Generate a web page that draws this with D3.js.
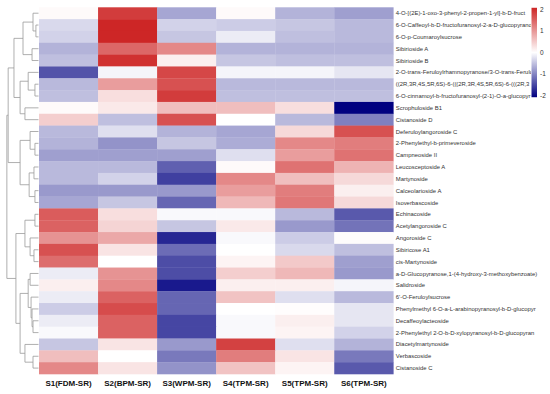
<html>
<head>
<script src="https://d3js.org/d3.v7.min.js"></script>
<style>
    body { margin: 0; background-color: #FFFFFF; font-family: "Liberation Sans", Arial, sans-serif; }
    svg { display: block; }
    .rowlab { font-size: 5.9px; fill: #333333; }
    .collab { font-size: 8px; font-weight: bold; fill: #111111; }
    .tick text { font-size: 6.5px; fill: #333333; }
    .dendro { fill: none; stroke: #9a9a9a; stroke-width: 0.8; }
</style>
</head>
<body>
<div id="chart"></div>
<script type="text/javascript">
    var samples = ["S1(FDM-SR)", "S2(BPM-SR)", "S3(WPM-SR)", "S4(TPM-SR)", "S5(TPM-SR)", "S6(TPM-SR)"];

    var compounds = [
        "4-O-[(2E)-1-oxo-3-phenyl-2-propen-1-yl]-b-D-fruct",
        "6-O-Caffeoyl-b-D-fructofuranosyl-2-a-D-glucopyrano",
        "6-O-p-Coumaroylsucrose",
        "Sibirioside A",
        "Sibirioside B",
        "2-O-trans-Feruloylrhamnopyranose/3-O-trans-Ferulo",
        "((2R,3R,4S,5R,6S)-6-(((2R,3R,4S,5R,6S)-6-(((2R,3",
        "6-O-cinnamoyl-b-fructofuranosyl-(2-1)-O-a-glucopyr",
        "Scrophuloside B1",
        "Cistanoside D",
        "Deferuloylangoroside C",
        "2-Phenylethyl-b-primeveroside",
        "Campneoside II",
        "Leucosceptoside A",
        "Martynoside",
        "Calceolarioside A",
        "Isoverbascoside",
        "Echinacoside",
        "Acetylangoroside C",
        "Angoroside C",
        "Sibiricose A1",
        "cis-Martynoside",
        "a-D-Glucopyranose,1-(4-hydroxy-3-methoxybenzoate)",
        "Salidroside",
        "6'-O-Feruloylsucrose",
        "Phenylmethyl 6-O-a-L-arabinopyranosyl-b-D-glucopyr",
        "Decaffeoylacteoside",
        "2-Phenylethyl 2-O-b-D-xylopyranosyl-b-D-glucopyran",
        "Diacetylmartynoside",
        "Verbascoside",
        "Cistanoside C"
    ];

    // z-scores, one row per compound, columns S1..S6
    var values = [
        [ 0.05,  1.80, -0.70,  0.05, -0.60, -0.75],
        [-0.30,  2.00, -0.35, -0.40, -0.45, -0.55],
        [-0.35,  2.00, -0.45, -0.15, -0.50, -0.55],
        [-0.60,  1.40,  1.10, -0.60, -0.60, -0.60],
        [-0.50,  1.90,  0.15, -0.45, -0.50, -0.50],
        [-1.35, -0.08,  1.70, -0.08, -0.08, -0.20],
        [-0.55,  0.90,  1.60, -0.55, -0.55, -0.55],
        [-0.50,  0.30,  1.80, -0.50, -0.50, -0.50],
        [ 0.05,  0.20,  0.60,  0.60,  0.30, -2.00],
        [ 0.45, -0.50,  1.60,  0.00, -0.55, -1.00],
        [-0.55, -0.25, -0.60, -0.70,  0.35,  1.60],
        [-0.60, -0.85, -0.45, -0.65,  1.10,  1.20],
        [-0.75, -0.75, -0.75, -0.25,  0.90,  1.30],
        [-0.55, -0.55, -1.25,  0.05,  1.30,  0.70],
        [-0.55, -0.35, -1.50,  1.10,  0.60,  0.35],
        [-0.80, -0.80, -0.80,  0.90,  1.20,  0.15],
        [-0.70, -0.45, -1.20,  0.65,  1.25,  0.35],
        [ 1.50,  0.30, -0.05, -0.05, -0.55, -1.30],
        [ 1.45,  0.40, -0.45,  0.20, -0.80, -1.10],
        [ 1.00,  0.80, -1.70, -0.05, -0.40,  0.03],
        [ 1.60,  0.25, -1.15,  0.00, -0.30, -0.50],
        [ 1.35,  0.00, -1.40,  0.10,  0.50, -0.75],
        [-0.15,  1.00, -1.40,  0.45,  0.65, -0.80],
        [ 0.15,  1.10, -1.80,  0.15,  0.15, -0.08],
        [-0.15,  1.45, -1.20,  0.55, -0.25, -0.55],
        [-0.40,  1.65, -1.20,  0.00,  0.02, -0.20],
        [-0.15,  1.45, -1.45, -0.05,  0.15, -0.20],
        [-0.05,  1.45, -1.45, -0.05,  0.10, -0.35],
        [-0.45,  0.25, -0.80,  1.75, -0.25, -0.60],
        [ 0.60,  0.00, -1.05,  1.20,  0.25, -1.05],
        [ 1.10,  0.25, -0.85,  0.55,  0.10, -1.30]
    ];

    // row clustering, hclust style: negative = leaf (1-based), positive = earlier merge
    var mergeA = [-2, -1, -4, 2, -7, -6, -9, 6, 4, -12, -11, -14, -16, 12, 11, 9, -18, -21, -20, 17, -27, -26, -25, -23, 24, -30, -29, 25, 20, 16];
    var mergeB = [-3, 1, -5, 3, -8, 5, -10, 7, 8, -13, 10, -15, -17, 13, 14, 15, -19, -22, 18, 19, -28, 21, 22, -24, 23, -31, 26, 27, 28, 29];
    var mergeHeight = [0.8, 1.7, 2.0, 4.8, 1.1, 3.2, 4.2, 5.7, 7.6, 1.1, 2.6, 1.4, 1.1, 2.9, 5.7, 9.4, 1.1, 1.4, 2.6, 4.2, 1.7, 2.0, 2.3, 2.6, 3.2, 1.7, 4.2, 5.7, 7.0, 9.8];

    var legendTicks = [2, 1, 0, -1, -2];

    var width = 550, height = 394;
    var mLeft = 39, mRight = 393.3, mTop = 7.3, mBottom = 374;

    var svg = d3.select("#chart").append("svg")
        .attr("width", width)
        .attr("height", height);

    var x = d3.scaleBand().domain(samples).range([mLeft, mRight]);
    var y = d3.scaleBand().domain(d3.range(compounds.length)).range([mTop, mBottom]);

    var color = d3.scaleLinear()
        .domain([-2, 0, 2])
        .range(["#000080", "#ffffff", "#cd2626"])
        .clamp(true);

    // cells
    var cells = [];
    values.forEach(function(row, i) {
        row.forEach(function(v, j) { cells.push({ r: i, c: j, v: v }); });
    });

    svg.append("g").selectAll("rect")
        .data(cells)
        .enter().append("rect")
        .attr("x", function(d) { return x(samples[d.c]); })
        .attr("y", function(d) { return y(d.r); })
        .attr("width", x.bandwidth() + 0.3)
        .attr("height", y.bandwidth() + 0.3)
        .attr("fill", function(d) { return color(d.v); });

    // colour legend scale (needed for label clipping too)
    var ly = d3.scaleLinear().domain([-2, 2]).range([95.5, 9.5]);

    // row labels, clipped only where they run under the legend
    var clip = svg.append("clipPath").attr("id", "labclip");
    clip.append("rect").attr("x", mRight).attr("y", 0)
        .attr("width", 531 - mRight).attr("height", ly(-2.08) + 2);
    clip.append("rect").attr("x", mRight).attr("y", ly(-2.08) + 2)
        .attr("width", width - mRight).attr("height", height);

    svg.append("g").attr("clip-path", "url(#labclip)")
        .selectAll("text")
        .data(compounds)
        .enter().append("text")
        .attr("class", "rowlab")
        .attr("x", mRight + 2.5)
        .attr("y", function(d, i) { return y(i) + y.bandwidth() / 2; })
        .attr("dy", "0.35em")
        .text(function(d) { return d; });

    // column labels
    svg.append("g").selectAll("text")
        .data(samples)
        .enter().append("text")
        .attr("class", "collab")
        .attr("x", function(d) { return x(d) + x.bandwidth() / 2; })
        .attr("y", 385.5)
        .attr("text-anchor", "middle")
        .text(function(d) { return d; });

    // dendrogram
    var hx = d3.scaleLinear().domain([0, 11]).range([mLeft - 0.5, 3]);
    var nodes = [];
    function pos(id) {
        if (id < 0) return { x: hx(0), y: y(-id - 1) + y.bandwidth() / 2 };
        return nodes[id - 1];
    }
    var dg = svg.append("g");
    for (var k = 0; k < mergeHeight.length; k++) {
        var a = pos(mergeA[k]), b = pos(mergeB[k]);
        var px = hx(mergeHeight[k]);
        nodes.push({ x: px, y: (a.y + b.y) / 2 });
        dg.append("path")
            .attr("class", "dendro")
            .attr("d", "M" + a.x + "," + a.y + "H" + px + "V" + b.y + "H" + b.x);
    }

    // colour legend
    var grad = svg.append("defs").append("linearGradient")
        .attr("id", "lgrad")
        .attr("x1", 0).attr("y1", 1).attr("x2", 0).attr("y2", 0);
    d3.range(-2, 2.01, 0.5).forEach(function(v) {
        grad.append("stop")
            .attr("offset", (v + 2) / 4)
            .attr("stop-color", color(v));
    });
    svg.append("rect")
        .attr("x", 531.5)
        .attr("y", ly(2.08))
        .attr("width", 5.5)
        .attr("height", ly(-2.08) - ly(2.08))
        .attr("fill", "url(#lgrad)");

    svg.append("g")
        .attr("class", "tick")
        .selectAll("text")
        .data(legendTicks)
        .enter().append("text")
        .attr("x", 540)
        .attr("y", function(d) { return ly(d); })
        .attr("dy", "0.35em")
        .text(function(d) { return d; });
</script>
</body>
</html>
